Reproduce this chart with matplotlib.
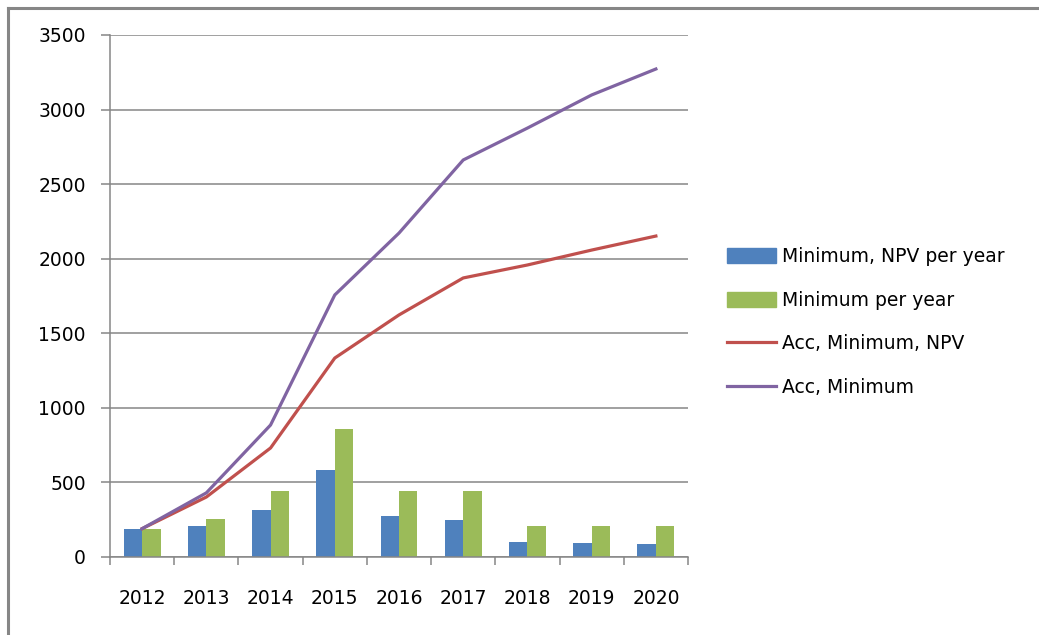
import matplotlib.pyplot as plt
import numpy as np
from matplotlib.lines import Line2D

years = ['2012', '2013', '2014', '2015', '2016', '2017', '2018', '2019', '2020']
npv_per_year = [190, 210, 315, 585, 275, 248, 100, 94, 87]
min_per_year = [190, 255, 440, 860, 440, 445, 210, 210, 210]
acc_min_npv = [190, 402, 731, 1334, 1623, 1871, 1958, 2058, 2152]
acc_min = [190, 430, 885, 1757, 2172, 2662, 2876, 3098, 3272]

blue = '#4F81BD'
green = '#9BBB59'
red = '#C0504D'
purple = '#8064A2'
grid_col = '#868686'

plt.rcParams['font.family'] = 'DejaVu Sans'

fig = plt.figure(figsize=(10.39, 6.35), dpi=100)
ax = fig.add_axes([110 / 1039, 78 / 635, 578 / 1039, 522 / 635])

x = np.arange(len(years))
w = 0.288
ax.bar(x - w / 2, npv_per_year, w, color=blue, zorder=2, label='Minimum, NPV per year')
ax.bar(x + w / 2, min_per_year, w, color=green, zorder=2, label='Minimum per year')
ax.plot(x, acc_min_npv, color=red, lw=2.3, zorder=3, label='Acc, Minimum, NPV')
ax.plot(x, acc_min, color=purple, lw=2.3, zorder=3, label='Acc, Minimum')

ax.set_xlim(-0.5, len(years) - 0.5)
ax.set_ylim(0, 3500)
ax.set_yticks(np.arange(0, 3501, 500))
ax.yaxis.grid(True, color=grid_col, lw=1.1, zorder=0)
ax.set_axisbelow(True)

# labels sit at category centres, tick marks at the boundaries
ax.set_xticks(x)
ax.set_xticklabels(years)
ax.set_xticks(np.arange(-0.5, len(years)), minor=True)
ax.tick_params(axis='x', which='major', length=0, pad=23, labelsize=13.5)
ax.tick_params(axis='x', which='minor', length=6, width=1.1, color=grid_col, direction='out')
ax.tick_params(axis='y', length=6.5, width=1.1, color=grid_col, pad=11, labelsize=13.5)

for s in ['top', 'right']:
    ax.spines[s].set_visible(False)
for s in ['left', 'bottom']:
    ax.spines[s].set_color(grid_col)
    ax.spines[s].set_linewidth(1.1)

handles = [
    plt.Rectangle((0, 0), 1, 1, color=blue),
    plt.Rectangle((0, 0), 1, 1, color=green),
    Line2D([0], [0], color=red, lw=2.3),
    Line2D([0], [0], color=purple, lw=2.3),
]
labels = ['Minimum, NPV per year', 'Minimum per year', 'Acc, Minimum, NPV', 'Acc, Minimum']
fig.legend(handles, labels, loc='center left', bbox_to_anchor=(727 / 1039, 1 - 322 / 635),
           bbox_transform=fig.transFigure, frameon=False, fontsize=13.5,
           handlelength=2.6, handleheight=0.85, handletextpad=0.35,
           labelspacing=1.3, borderpad=0, borderaxespad=0)

# chart border along the top and left edges
fig.add_artist(Line2D([8 / 1039, 1], [1 - 8 / 635, 1 - 8 / 635], color=grid_col, lw=2.2,
                      transform=fig.transFigure))
fig.add_artist(Line2D([8 / 1039, 8 / 1039], [0, 1 - 8 / 635], color=grid_col, lw=2.2,
                      transform=fig.transFigure))

fig.savefig('out.png', dpi=100)
